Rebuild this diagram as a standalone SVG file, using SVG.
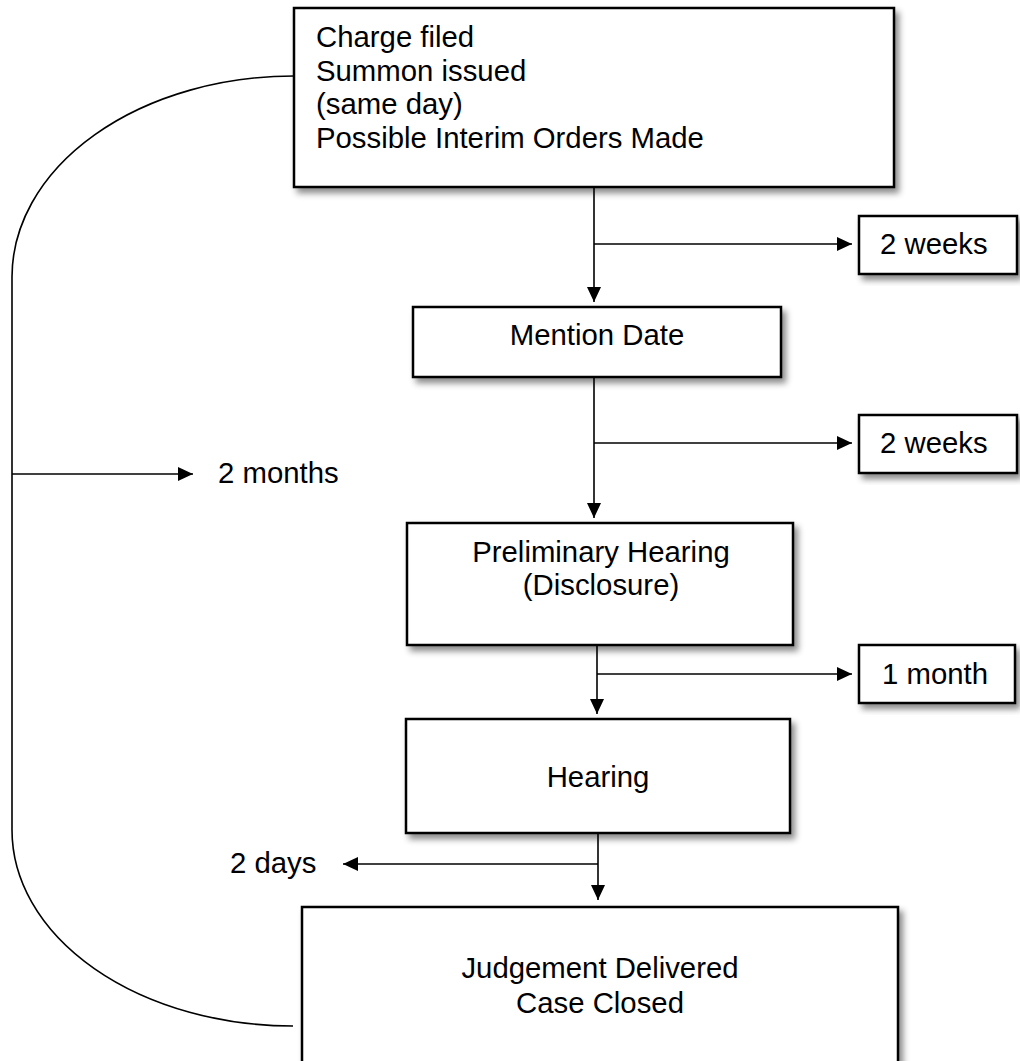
<svg xmlns="http://www.w3.org/2000/svg" width="1020" height="1061" viewBox="0 0 1020 1061">
  <defs>
    <filter id="shadow" x="-10%" y="-10%" width="125%" height="130%">
      <feDropShadow dx="4" dy="5" stdDeviation="3" flood-color="#000" flood-opacity="0.45"/>
    </filter>
    <marker id="arrow" viewBox="0 0 15 14" refX="15" refY="7" markerWidth="15" markerHeight="14" markerUnits="userSpaceOnUse" orient="auto">
      <path d="M0,0 L15,7 L0,14 Z" fill="#000"/>
    </marker>
  </defs>
  <style>
    .box { fill: #fff; stroke: #000; stroke-width: 2.5; filter: url(#shadow); }
    .lbl { font-family: "Liberation Sans", Arial, sans-serif; font-size: 29.33px; fill: #000; }
    .mid { text-anchor: middle; }
    .line { fill: none; stroke: #000; stroke-width: 1.6; }
    .arr { marker-end: url(#arrow); }
  </style>
  <rect width="1020" height="1061" fill="#fff"/>

  <g id="connectors">
    <!-- return loop from the first step to the last one -->
    <path class="line" d="M294,76 A282,201 0 0 0 12,277 L12,830 A281,196 0 0 0 293,1026"/>
    <line class="line arr" x1="12" y1="474" x2="193" y2="474"/>
    <!-- main flow -->
    <line class="line arr" x1="594" y1="187" x2="594" y2="302"/>
    <line class="line arr" x1="594" y1="244" x2="852" y2="244"/>
    <line class="line arr" x1="594" y1="377" x2="594" y2="518"/>
    <line class="line arr" x1="594" y1="443" x2="852" y2="443"/>
    <line class="line arr" x1="597" y1="646" x2="597" y2="714"/>
    <line class="line arr" x1="597" y1="674" x2="852" y2="674"/>
    <line class="line arr" x1="598" y1="833" x2="598" y2="900"/>
    <line class="line arr" x1="598" y1="864" x2="343" y2="864"/>
  </g>

  <g id="charge-filed">
    <rect class="box" x="294" y="8" width="600" height="179"/>
    <text class="lbl" x="316" y="47">Charge filed</text>
    <text class="lbl" x="316" y="80.5">Summon issued</text>
    <text class="lbl" x="316" y="114">(same day)</text>
    <text class="lbl" x="316" y="147.5">Possible Interim Orders Made</text>
  </g>

  <g id="wait-2-weeks-a">
    <rect class="box" x="859" y="216" width="158" height="58"/>
    <text class="lbl" x="880" y="254">2 weeks</text>
  </g>

  <g id="mention-date">
    <rect class="box" x="413" y="307" width="368" height="70"/>
    <text class="lbl mid" x="597" y="345">Mention Date</text>
  </g>

  <g id="wait-2-weeks-b">
    <rect class="box" x="859" y="415" width="158" height="58"/>
    <text class="lbl" x="880" y="453">2 weeks</text>
  </g>

  <g id="wait-2-months">
    <text class="lbl" x="218" y="483">2 months</text>
  </g>

  <g id="preliminary-hearing">
    <rect class="box" x="407" y="523" width="386" height="122"/>
    <text class="lbl mid" x="601" y="562">Preliminary Hearing</text>
    <text class="lbl mid" x="601" y="595">(Disclosure)</text>
  </g>

  <g id="wait-1-month">
    <rect class="box" x="859" y="645" width="156" height="58"/>
    <text class="lbl" x="882" y="684">1 month</text>
  </g>

  <g id="hearing">
    <rect class="box" x="406" y="719" width="384" height="114"/>
    <text class="lbl mid" x="598" y="787">Hearing</text>
  </g>

  <g id="wait-2-days">
    <text class="lbl" x="230" y="873">2 days</text>
  </g>

  <g id="judgement">
    <rect class="box" x="302" y="907" width="596" height="170"/>
    <text class="lbl mid" x="600" y="978">Judgement Delivered</text>
    <text class="lbl mid" x="600" y="1013">Case Closed</text>
  </g>
</svg>
